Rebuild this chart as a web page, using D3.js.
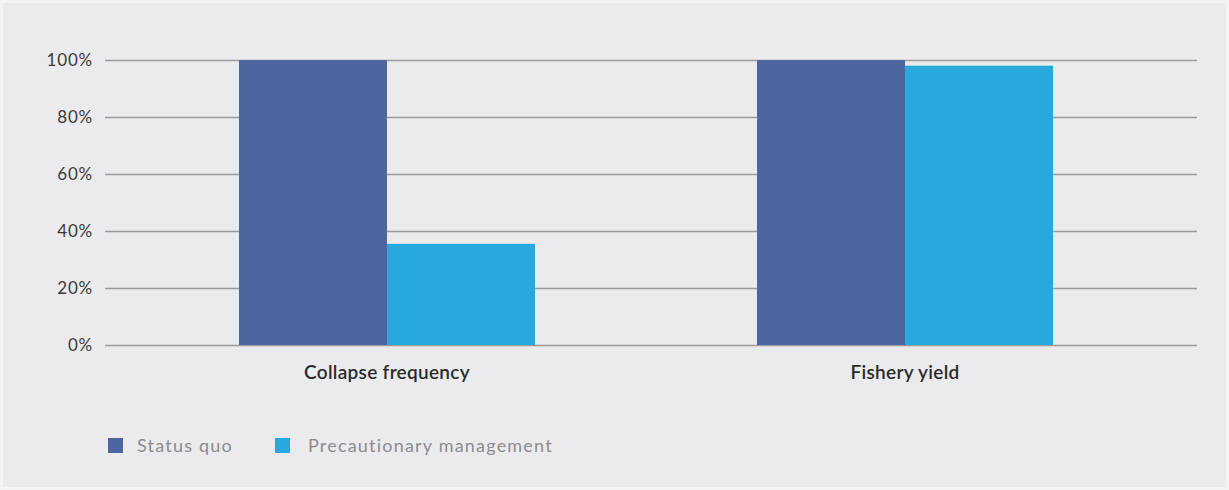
<!DOCTYPE html>
<html>
<head>
<meta charset="utf-8">
<script src="https://cdn.jsdelivr.net/npm/d3@7"></script>
<style>
  body { margin: 0; background: #ebebed; }
  svg { display: block; font-family: Lato, "Open Sans", sans-serif; }
</style>
</head>
<body>
<div id="chart-container"></div>
<script>
// Data
const categories = ["Collapse frequency", "Fishery yield"];
const series = ["Status quo", "Precautionary management"];
const statusQuo = [100, 100];
const precautionary = [35.5, 98];
const yTicks = [0, 20, 40, 60, 80, 100];
const colors = ["#4d66a0", "#27a9dd"];

const W = 1229, H = 490;
const plot = { left: 105, right: 1197, top: 60, bottom: 345 };

const svg = d3.select("#chart-container")
  .append("svg")
  .attr("width", W)
  .attr("height", H);

// background with faint light edge
svg.append("rect")
  .attr("x", 0).attr("y", 0)
  .attr("width", W).attr("height", H)
  .attr("fill", "#f4f4f6");
svg.append("rect")
  .attr("x", 3).attr("y", 3)
  .attr("width", W - 6).attr("height", H - 6)
  .attr("fill", "#ebebed");

// scales
const x0 = d3.scaleBand()
  .domain(categories)
  .range([plot.left, 1187])
  .paddingInner(0.4286)
  .paddingOuter(0.2587);

const x1 = d3.scaleBand()
  .domain(series)
  .range([0, x0.bandwidth()]);

const y = d3.scaleLinear()
  .domain([0, 100])
  .range([plot.bottom, plot.top]);

// gridlines + y labels
const yAxis = svg.append("g")
  .attr("transform", `translate(${plot.left},0)`)
  .call(d3.axisLeft(y)
    .tickValues(yTicks)
    .tickSize(-(plot.right - plot.left))
    .tickPadding(12)
    .tickFormat(d => d + "%"));

yAxis.select(".domain").remove();
yAxis.selectAll(".tick line")
  .attr("stroke", "#9a9a9c")
  .attr("stroke-width", 1.6);
yAxis.selectAll(".tick text")
  .attr("fill", "#3a3a3a")
  .attr("font-size", 17)
  .attr("letter-spacing", 0.8)
  .attr("font-family", "Lato, sans-serif");

// bars
const rows = categories.map((c, i) => ({
  cat: c,
  vals: [statusQuo[i], precautionary[i]]
}));

const groups = svg.selectAll(".group")
  .data(rows)
  .enter()
  .append("g")
  .attr("class", "group")
  .attr("transform", d => `translate(${x0(d.cat)},0)`);

groups.selectAll("rect")
  .data(d => d.vals.map((v, j) => ({ s: series[j], v: v, j: j })))
  .enter()
  .append("rect")
  .attr("x", d => x1(d.s))
  .attr("width", x1.bandwidth())
  .attr("y", d => y(d.v))
  .attr("height", d => y(0) - y(d.v))
  .attr("fill", d => colors[d.j]);

// category labels
svg.selectAll(".cat-label")
  .data(categories)
  .enter()
  .append("text")
  .attr("class", "cat-label")
  .attr("x", d => x0(d) + x0.bandwidth() / 2)
  .attr("y", 379)
  .attr("text-anchor", "middle")
  .attr("font-size", 19)
  .attr("font-weight", 600)
  .attr("letter-spacing", 0.3)
  .attr("fill", "#2a2a2a")
  .text(d => d);

// legend
const legendX = [108, 275];
const legend = svg.selectAll(".legend")
  .data(series)
  .enter()
  .append("g")
  .attr("class", "legend")
  .attr("transform", (d, i) => `translate(${legendX[i]},438)`);

legend.append("rect")
  .attr("width", 15)
  .attr("height", 15)
  .attr("fill", (d, i) => colors[i]);

legend.append("text")
  .attr("x", (d, i) => i === 0 ? 29 : 33)
  .attr("y", 14)
  .attr("font-size", 18)
  .attr("letter-spacing", 1.2)
  .attr("fill", "#8c8c8e")
  .text(d => d);
</script>
</body>
</html>
